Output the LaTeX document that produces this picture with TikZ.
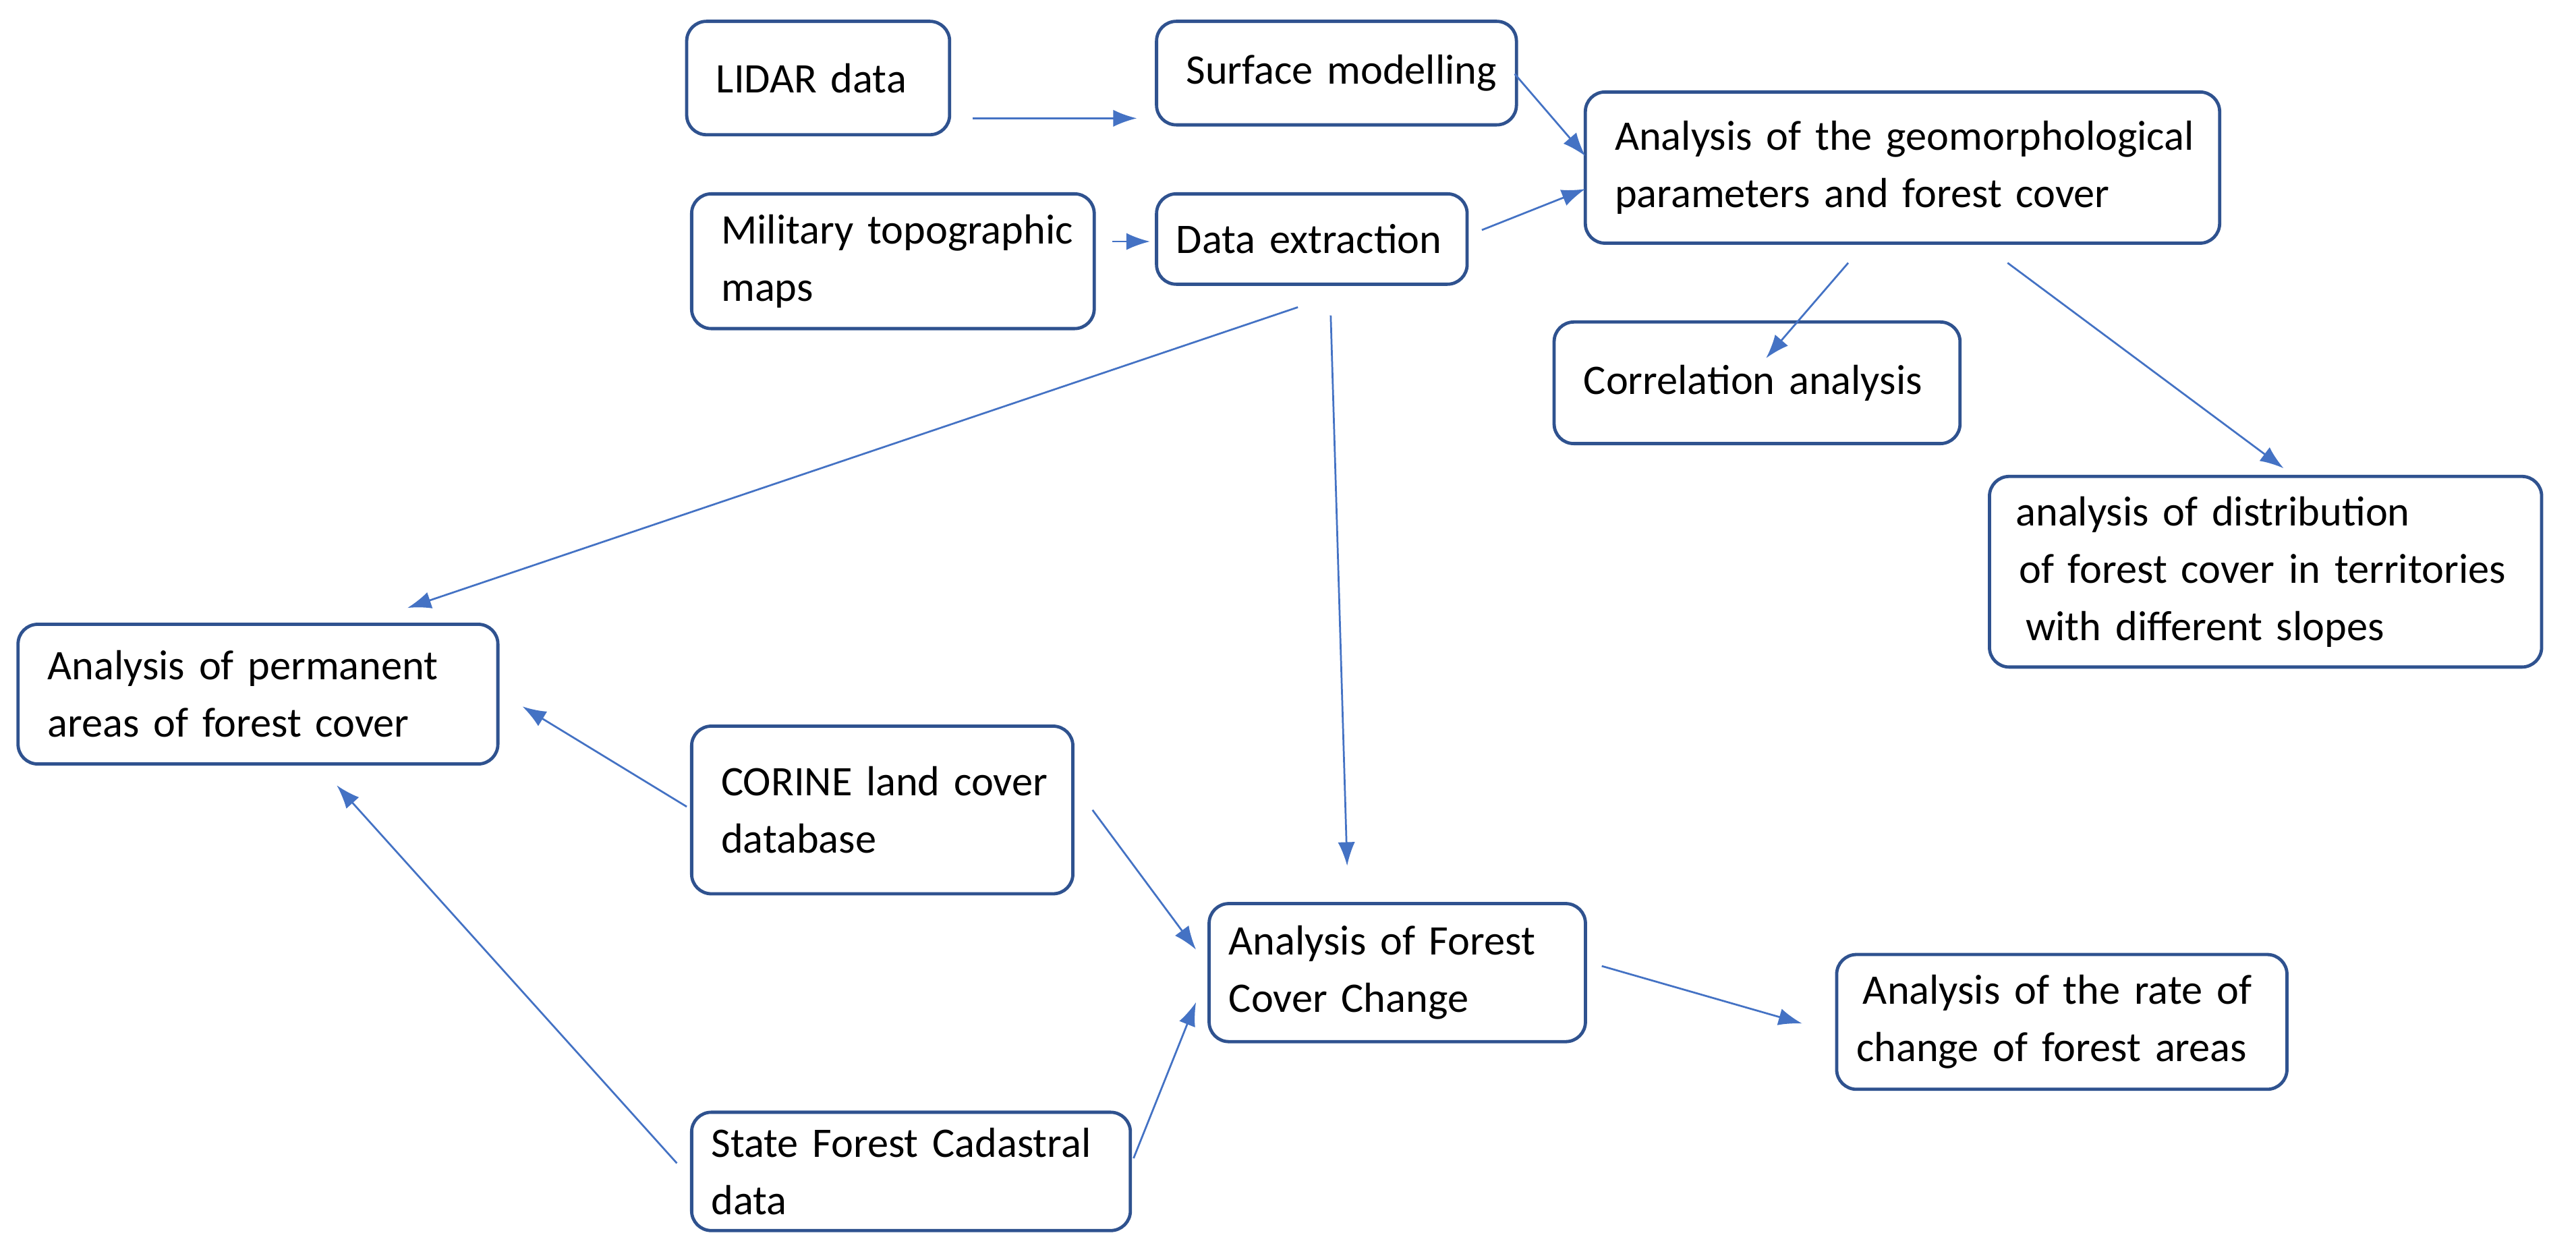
\documentclass[tikz,border=0pt]{standalone}
\usepackage{fontspec}
\setmainfont{Carlito}
\usetikzlibrary{arrows.meta}
\definecolor{bord}{HTML}{2F528F}
\definecolor{arr}{HTML}{4472C4}
\begin{document}
\begin{tikzpicture}[x=0.025cm,y=-0.025cm,
  box/.style={draw=bord,line width=1.4pt,rounded corners=0.3cm,anchor=north west,align=left,
    inner xsep=0.45cm,inner ysep=0pt,font=\fontsize{18.2}{24.8}\selectfont,text=black},
  ar/.style={draw=arr,line width=0.8pt,-{Latex[length=0.36cm,width=0.26cm]}}]
\useasboundingbox[fill=white] (0,0) rectangle (1568,763);
\node[box,text width=3.1cm,minimum height=1.725cm] (lidar) at (417,12) {\mbox{LIDAR data}};
\node[box,text width=4.575cm,minimum height=1.575cm] (surf) at (703,12) {\mbox{Surface modelling}};
\node[box,text width=8.75cm,minimum height=2.3cm] (geo) at (964,55) {\mbox{Analysis of the geomorphological}\\\mbox{parameters and forest cover}\vphantom{g}};
\node[box,text width=5.225cm,minimum height=2.05cm] (mil) at (420,117) {\mbox{Military topographic}\\\mbox{maps}};
\node[box,text width=3.825cm,minimum height=1.375cm,inner xsep=0.3cm,text width=4.125cm] (dex) at (703,117) {\mbox{Data extraction}};
\node[box,text width=5.275cm,minimum height=1.85cm] (cor) at (945,195) {\mbox{Correlation analysis}};
\node[box,text width=7.8cm,minimum height=2.9cm,inner xsep=0.3cm] (dist) at (1210,289) {\hspace{0.1cm}\mbox{analysis of distribution}\\\hspace{0.15cm}\mbox{of forest cover in territories}\\\hspace{0.25cm}\mbox{with different slopes}};
\node[box,text width=6.4cm,minimum height=2.125cm] (perm) at (10,379) {\mbox{Analysis of permanent}\\\mbox{areas of forest cover}};
\node[box,text width=4.9cm,minimum height=2.55cm] (cor2) at (420,441) {\mbox{CORINE land cover}\\\mbox{database}};
\node[box,minimum height=2.1cm,inner xsep=0.3cm,text width=5.125cm] (fcc) at (735,549) {\mbox{Analysis of Forest}\\\mbox{Cover Change}};
\node[box,minimum height=2.05cm,inner xsep=0.3cm,text width=6.25cm] (rate) at (1117,580) {\hspace{0.1cm}\mbox{Analysis of the rate of}\\\mbox{change of forest areas}};
\node[box,text width=6.075cm,minimum height=1.8cm,inner xsep=0.3cm] (state) at (420,676) {\mbox{State Forest Cadastral}\\\mbox{data}};
\coordinate (a1) at (592,72); \coordinate (a2) at (692,72);
\coordinate (b1) at (922,45); \coordinate (b2) at (965,95);
\coordinate (c1) at (902,140); \coordinate (c2) at (965,115);
\coordinate (d1) at (677,147); \coordinate (d2) at (700,147);
\coordinate (e1) at (1125,160); \coordinate (e2) at (1075,218);
\coordinate (f1) at (1222,160); \coordinate (f2) at (1390,285);
\coordinate (g1) at (790,187); \coordinate (g2) at (248,370);
\coordinate (h1) at (810,192); \coordinate (h2) at (820,527);
\coordinate (i1) at (418,491); \coordinate (i2) at (318,430);
\coordinate (j1) at (665,493); \coordinate (j2) at (728,578);
\coordinate (k1) at (412,708); \coordinate (k2) at (205,478);
\coordinate (l1) at (690,705); \coordinate (l2) at (728,610);
\coordinate (m1) at (975,588); \coordinate (m2) at (1097,623);
\foreach \s/\t in {a1/a2,b1/b2,c1/c2,d1/d2,e1/e2,f1/f2,g1/g2,h1/h2,i1/i2,j1/j2,k1/k2,l1/l2,m1/m2}
  \draw[ar] (\s) -- (\t);
\end{tikzpicture}
\end{document}
